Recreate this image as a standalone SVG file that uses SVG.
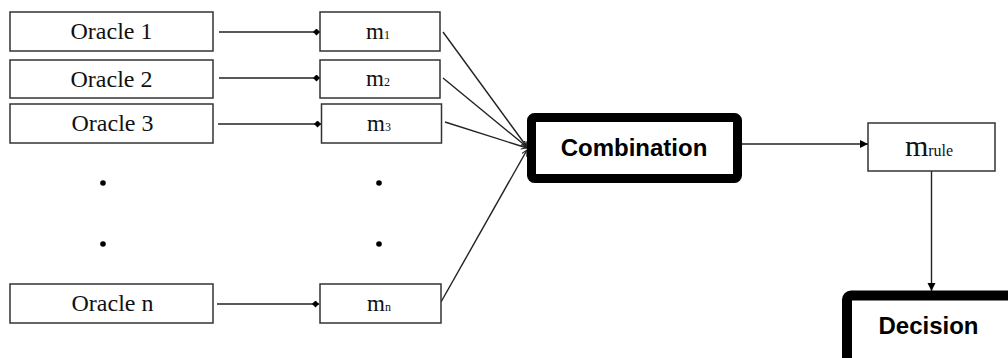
<svg xmlns="http://www.w3.org/2000/svg" width="1008" height="358" viewBox="0 0 1008 358">
<style>
.box{fill:#fff;stroke:#333;stroke-width:1.5}
.thick{fill:#fff;stroke:#000;stroke-linejoin:round}
.ser{font-family:"Liberation Serif","Times New Roman",serif;fill:#111;text-anchor:middle}
.bold{font-family:"Liberation Sans",Arial,sans-serif;font-weight:bold;font-size:24px;fill:#000;text-anchor:middle}
.ln{stroke:#222;stroke-width:1.4;fill:none}
.dot{fill:#000}
</style>
<defs>
<marker id="dia" markerWidth="10" markerHeight="10" refX="7" refY="3.5" orient="auto" markerUnits="userSpaceOnUse">
<path d="M0,3.5 L3.5,0 L7,3.5 L3.5,7 z" fill="#000"/>
</marker>
<marker id="arr" markerWidth="10" markerHeight="10" refX="8" refY="4" orient="auto" markerUnits="userSpaceOnUse">
<path d="M0,0 L8,4 L0,8 z" fill="#000"/>
</marker>
<marker id="arrs" markerWidth="8" markerHeight="8" refX="6" refY="3" orient="auto" markerUnits="userSpaceOnUse">
<path d="M0,0 L6,3 L0,6" fill="none" stroke="#222" stroke-width="1"/>
</marker>
</defs>
<g id="connectors">
<line class="ln" x1="219" y1="32" x2="320" y2="32" marker-end="url(#dia)"/>
<line class="ln" x1="219" y1="78" x2="320" y2="78" marker-end="url(#dia)"/>
<line class="ln" x1="218" y1="124" x2="321" y2="124" marker-end="url(#dia)"/>
<line class="ln" x1="217" y1="304" x2="319" y2="304" marker-end="url(#dia)"/>
<line class="ln" x1="443" y1="32" x2="527" y2="147" marker-end="url(#arrs)"/>
<line class="ln" x1="443" y1="78" x2="527" y2="147" marker-end="url(#arrs)"/>
<line class="ln" x1="445" y1="122" x2="527" y2="148" marker-end="url(#arrs)"/>
<line class="ln" x1="441" y1="302" x2="527" y2="150" marker-end="url(#arrs)"/>
<line class="ln" x1="742" y1="144" x2="868" y2="144" marker-end="url(#arr)"/>
<line class="ln" x1="931.5" y1="171" x2="931.5" y2="291" stroke="#555" marker-end="url(#arr)"/>
</g>
<g id="oracle1"><rect class="box" x="10" y="12" width="203" height="39"/><text class="ser" x="111.5" y="39" font-size="24">Oracle 1</text></g>
<g id="oracle2"><rect class="box" x="10" y="60" width="203" height="38"/><text class="ser" x="111.5" y="87" font-size="24">Oracle 2</text></g>
<g id="oracle3"><rect class="box" x="10" y="104" width="203" height="39"/><text class="ser" x="112.5" y="131" font-size="24">Oracle 3</text></g>
<g id="oraclen"><rect class="box" x="10" y="284" width="203" height="39"/><text class="ser" x="112.5" y="311" font-size="24">Oracle n</text></g>
<g id="m1"><rect class="box" x="320" y="12" width="120" height="39"/><text class="ser" x="378" y="39" font-size="23">m<tspan font-size="12">1</tspan></text></g>
<g id="m2"><rect class="box" x="320" y="60" width="120" height="38"/><text class="ser" x="378" y="86" font-size="23">m<tspan font-size="12">2</tspan></text></g>
<g id="m3"><rect class="box" x="321.5" y="104" width="120" height="39"/><text class="ser" x="379" y="131" font-size="23">m<tspan font-size="12">3</tspan></text></g>
<g id="mn"><rect class="box" x="320" y="284" width="121" height="39"/><text class="ser" x="379" y="311" font-size="23">m<tspan font-size="12">n</tspan></text></g>
<g id="dots">
<circle class="dot" cx="103" cy="183" r="2.8"/><circle class="dot" cx="103" cy="244" r="2.8"/>
<circle class="dot" cx="379" cy="183" r="2.8"/><circle class="dot" cx="379" cy="244" r="2.8"/>
</g>
<g id="combination"><rect class="thick" x="531.5" y="117.5" width="206" height="61" rx="3" stroke-width="9"/><text class="bold" x="634" y="156">Combination</text></g>
<g id="mrule"><rect class="box" x="868" y="123" width="127" height="48"/><text class="ser" x="929" y="156" font-size="30">m<tspan font-size="16">rule</tspan></text></g>
<g id="decision"><rect class="thick" x="847" y="295.5" width="200" height="100" rx="4" stroke-width="10"/><text class="bold" x="928.5" y="334">Decision</text></g>
</svg>
